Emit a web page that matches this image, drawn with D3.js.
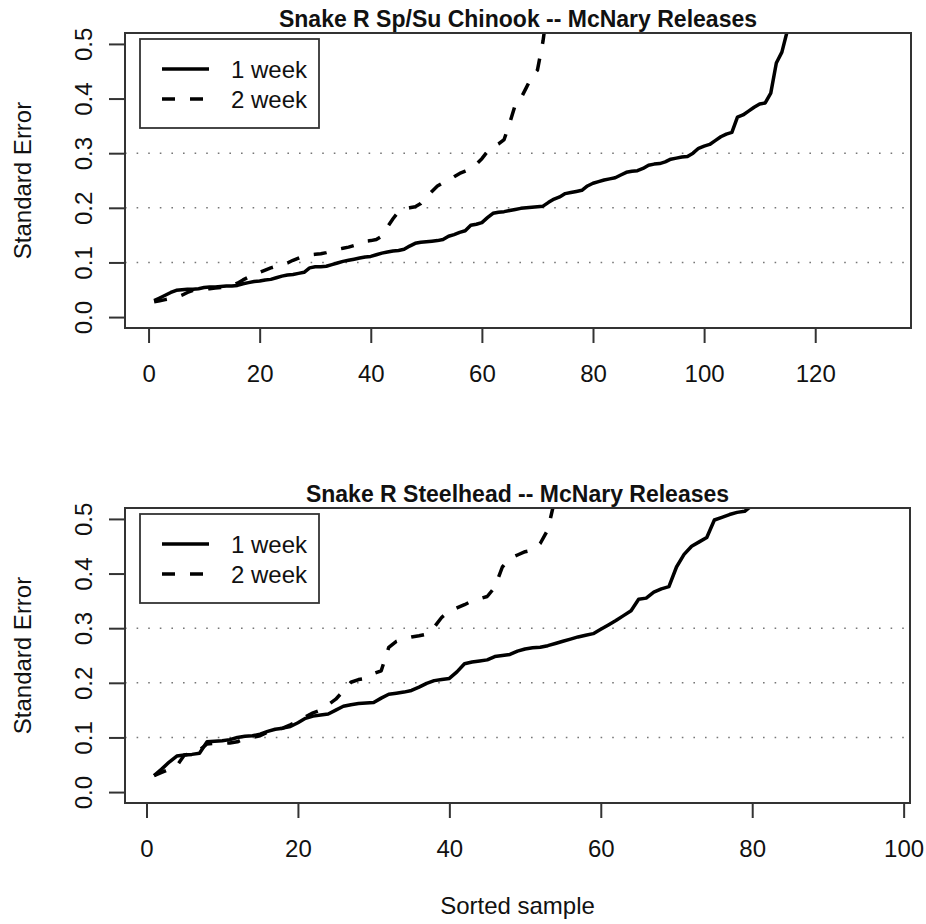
<!DOCTYPE html>
<html><head><meta charset="utf-8">
<script src="https://cdn.jsdelivr.net/npm/d3@7"></script>
<style>body{margin:0;background:#fff}svg{display:block}text{font-family:"Liberation Sans",Arial,sans-serif}</style>
</head><body>
<script>
const titles = ["Snake R Sp/Su Chinook -- McNary Releases", "Snake R Steelhead -- McNary Releases"];
const legendLabels = ["1 week", "2 week"];
const yLabel = "Standard Error";
const xLabel = "Sorted sample";
const yTicks = [0, 0.1, 0.2, 0.3, 0.4, 0.5];
const gridValues = [0.1, 0.2, 0.3];
const xTicksTop = [0, 20, 40, 60, 80, 100, 120];
const xTicksBottom = [0, 20, 40, 60, 80, 100];

// Snake R Sp/Su Chinook, 1 week (sorted sample 1..115)
const chinook1 = [0.030,0.035,0.040,0.045,0.049,0.050,0.051,0.051,0.052,0.054,
0.055,0.055,0.056,0.057,0.057,0.058,0.061,0.063,0.065,0.066,
0.068,0.069,0.072,0.075,0.077,0.078,0.080,0.082,0.090,0.092,
0.092,0.093,0.096,0.099,0.102,0.104,0.106,0.108,0.110,0.111,
0.114,0.117,0.119,0.121,0.122,0.124,0.130,0.135,0.137,0.138,
0.139,0.140,0.142,0.148,0.151,0.155,0.158,0.168,0.170,0.173,
0.182,0.190,0.192,0.193,0.195,0.197,0.199,0.200,0.201,0.202,
0.203,0.210,0.216,0.220,0.226,0.228,0.230,0.232,0.240,0.245,
0.248,0.251,0.253,0.255,0.260,0.265,0.267,0.268,0.272,0.278,
0.280,0.281,0.284,0.289,0.291,0.293,0.294,0.300,0.309,0.313,
0.316,0.323,0.330,0.335,0.338,0.366,0.370,0.377,0.384,0.390,
0.392,0.410,0.465,0.485,0.525];
// Snake R Sp/Su Chinook, 2 week (sorted sample 1..72)
const chinook2 = [0.028,0.030,0.032,0.034,0.036,0.040,0.045,0.049,0.050,0.051,
0.052,0.053,0.054,0.056,0.058,0.062,0.068,0.073,0.078,0.082,
0.086,0.090,0.093,0.096,0.099,0.104,0.108,0.112,0.114,0.115,
0.116,0.118,0.121,0.124,0.126,0.128,0.131,0.136,0.139,0.140,
0.142,0.148,0.165,0.180,0.193,0.198,0.200,0.202,0.208,0.219,
0.230,0.240,0.246,0.250,0.257,0.263,0.267,0.271,0.280,0.290,
0.303,0.312,0.317,0.325,0.355,0.388,0.400,0.420,0.440,0.452,
0.505,0.580];
// Snake R Steelhead, 1 week (sorted sample 1..80)
const steel1 = [0.030,0.042,0.055,0.066,0.068,0.069,0.071,0.092,0.093,0.094,
0.096,0.100,0.102,0.103,0.106,0.111,0.115,0.117,0.120,0.127,
0.135,0.139,0.141,0.143,0.150,0.157,0.160,0.162,0.163,0.164,
0.172,0.179,0.181,0.183,0.186,0.192,0.199,0.204,0.206,0.208,
0.220,0.235,0.238,0.240,0.242,0.248,0.250,0.252,0.258,0.262,
0.264,0.265,0.268,0.272,0.276,0.280,0.284,0.287,0.290,0.298,
0.306,0.314,0.323,0.332,0.353,0.355,0.366,0.372,0.376,0.412,
0.435,0.450,0.458,0.466,0.498,0.503,0.508,0.512,0.514,0.525];
// Snake R Steelhead, 2 week (sorted sample 1..54)
const steel2 = [0.030,0.036,0.042,0.048,0.068,0.070,0.077,0.088,0.089,0.089,
0.090,0.092,0.098,0.100,0.103,0.110,0.114,0.117,0.123,0.130,
0.138,0.145,0.150,0.160,0.170,0.185,0.201,0.206,0.208,0.217,
0.222,0.265,0.276,0.281,0.284,0.286,0.289,0.302,0.320,0.331,
0.337,0.343,0.350,0.354,0.358,0.375,0.412,0.428,0.434,0.440,
0.443,0.455,0.480,0.540];

const W = 926, H = 924;
const svg = d3.select("body").append("svg").attr("width", W).attr("height", H);
const FS = 24;

const panels = [
  {title: titles[0], s1: chinook1, s2: chinook2, xTicks: xTicksTop, xlim: [1, 132],
   left: 125, right: 911, top: 33, bottom: 328},
  {title: titles[1], s1: steel1, s2: steel2, xTicks: xTicksBottom, xlim: [1, 97],
   left: 125, right: 910, top: 508, bottom: 803}
];

panels.forEach((p, pi) => {
  const ext = (p.xlim[1] - p.xlim[0]) * 0.04;
  const x = d3.scaleLinear().domain([p.xlim[0] - ext, p.xlim[1] + ext]).range([p.left, p.right]);
  const y = d3.scaleLinear().domain([-0.02, 0.52]).range([p.bottom, p.top]);
  const g = svg.append("g");

  const clipId = "clip" + pi;
  svg.append("clipPath").attr("id", clipId).append("rect")
    .attr("x", p.left).attr("y", p.top).attr("width", p.right - p.left).attr("height", p.bottom - p.top);

  // grid
  g.selectAll(".grid").data(gridValues).join("line")
    .attr("x1", p.left).attr("x2", p.right)
    .attr("y1", d => y(d)).attr("y2", d => y(d))
    .attr("stroke", "#777").attr("stroke-width", 1.6).attr("stroke-dasharray", "1.6,10");

  // lines
  const line = d3.line().x((d, i) => x(i + 1)).y(d => y(d));
  const lg = g.append("g").attr("clip-path", `url(#${clipId})`);
  lg.append("path").datum(p.s1).attr("d", line).attr("fill", "none")
    .attr("stroke", "#000").attr("stroke-width", 3.5).attr("stroke-linejoin", "round");
  lg.append("path").datum(p.s2).attr("d", line).attr("fill", "none")
    .attr("stroke", "#000").attr("stroke-width", 3.5).attr("stroke-linejoin", "round")
    .attr("stroke-dasharray", "13,15");

  // box
  g.append("rect").attr("x", p.left).attr("y", p.top)
    .attr("width", p.right - p.left).attr("height", p.bottom - p.top)
    .attr("fill", "none").attr("stroke", "#333").attr("stroke-width", 2);

  // x axis
  const xa = d3.axisBottom(x).tickValues(p.xTicks).tickSize(15).tickPadding(0).tickFormat(d3.format("d"));
  const xg = g.append("g").attr("transform", `translate(0,${p.bottom})`).call(xa);
  xg.select(".domain").remove();
  xg.selectAll(".tick line").attr("stroke", "#333").attr("stroke-width", 2);
  xg.selectAll(".tick text").attr("font-size", FS).attr("fill", "#111")
    .attr("dy", null).attr("y", 54).attr("font-family", '"Liberation Sans",Arial,sans-serif');

  // y axis
  const ya = d3.axisLeft(y).tickValues(yTicks).tickSize(16).tickPadding(0).tickFormat(d3.format(".1f"));
  const yg = g.append("g").attr("transform", `translate(${p.left},0)`).call(ya);
  yg.select(".domain").remove();
  yg.selectAll(".tick line").attr("stroke", "#333").attr("stroke-width", 2);
  yg.selectAll(".tick text").attr("font-size", FS).attr("fill", "#111")
    .attr("x", null).attr("dy", null).attr("text-anchor", "middle")
    .attr("transform", "translate(-33,0) rotate(-90)")
    .attr("font-family", '"Liberation Sans",Arial,sans-serif');

  // y label
  const cy = (p.top + p.bottom) / 2;
  g.append("text").attr("transform", `translate(31,${cy}) rotate(-90)`)
    .attr("text-anchor", "middle").attr("font-size", FS).attr("fill", "#111").text(yLabel);

  // title
  g.append("text").attr("x", (p.left + p.right) / 2).attr("y", p.top - 6)
    .attr("text-anchor", "middle").attr("font-size", 23).attr("font-weight", "bold")
    .attr("fill", "#111").text(p.title);

  // legend
  const lx = p.left + 15, ly = p.top + 6;
  g.append("rect").attr("x", lx).attr("y", ly).attr("width", 179).attr("height", 89)
    .attr("fill", "#fff").attr("stroke", "#333").attr("stroke-width", 1.8);
  legendLabels.forEach((lab, k) => {
    const yy = ly + 30 + k * 30;
    g.append("line").attr("x1", lx + 22).attr("x2", lx + 69).attr("y1", yy).attr("y2", yy)
      .attr("stroke", "#000").attr("stroke-width", 3.5)
      .attr("stroke-dasharray", k === 1 ? "13,15" : null);
    g.append("text").attr("x", lx + 91).attr("y", yy + 8.5).attr("font-size", FS)
      .attr("fill", "#111").text(lab);
  });
});

svg.append("text").attr("x", (125 + 910) / 2).attr("y", 914).attr("text-anchor", "middle")
  .attr("font-size", FS).attr("fill", "#111").text(xLabel);
</script>
</body></html>
